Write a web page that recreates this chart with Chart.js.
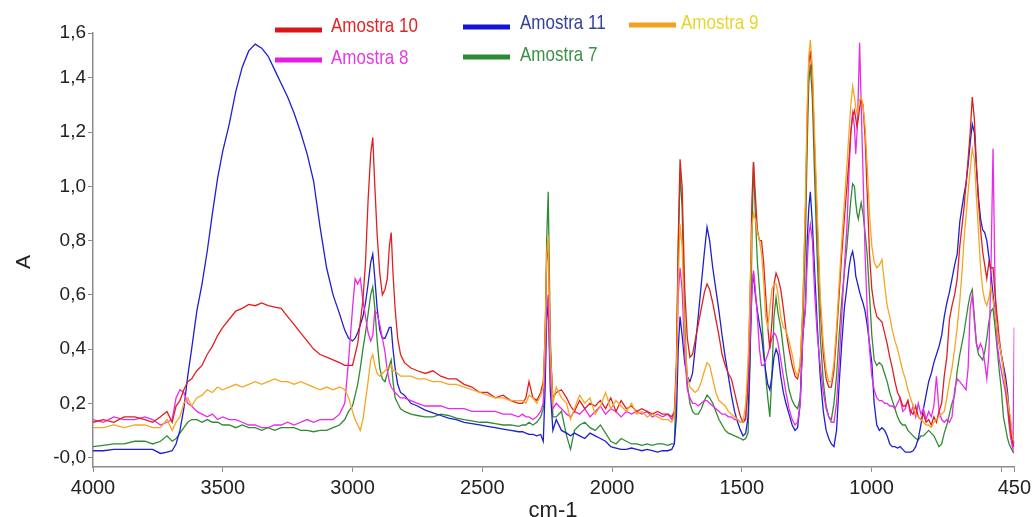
<!DOCTYPE html>
<html>
<head>
<meta charset="utf-8">
<script src="https://cdn.jsdelivr.net/npm/chart.js@4.4.0/dist/chart.umd.min.js"></script>
<style>
html,body{margin:0;padding:0;background:#fff;}
canvas{display:block;}
</style>
</head>
<body>
<canvas id="c" width="1035" height="517"></canvas>
<script>
// Wavenumbers (cm-1), shared x grid
const wavenumbers = [
4000,3960,3920,3880,3840,3800,3770,3740,3715,3695,
3680,3665,3650,3635,3620,3600,3580,3560,3540,3520,3500,3475,3450,3425,3400,3375,3350,3325,3300,3275,3250,3225,3200,3175,3150,3125,3100,3075,3050,3030,3015,
3000,2990,2980,2970,2960,2950,2940,2930,2922,2914,2905,2895,2885,2875,2866,2858,2851,2844,2836,2826,2815,
2800,2775,2750,2720,2690,2660,2630,2600,2570,2540,2510,2480,2450,2420,2390,2360,
2345,2332,2320,2305,2290,2275,2265,2258,2252,2246,2238,2228,
2215,2195,2175,2160,2145,2125,2105,2085,2065,2045,2025,2005,1985,1965,1945,1925,1905,1885,1865,1845,1825,1805,1785,1770,
1760,1752,1745,1738,1730,1720,1710,1700,1690,1680,1668,1656,1644,1634,1624,1612,1600,1588,1576,1564,1552,1540,1528,1516,1505,
1495,1485,1476,1468,1461,1455,1448,1440,1432,1424,1416,1408,1400,1392,1384,1376,1368,1360,1350,1340,1330,1318,1306,1295,1285,1275,1265,
1255,1248,1242,1236,1228,1220,1210,1198,1186,1175,1165,1155,1145,1135,1125,1115,1105,
1095,1087,1080,1073,1066,1061,1056,1051,1046,1040,1033,1025,1017,1008,999,990,980,970,960,950,940,930,920,910,900,890,880,
870,860,850,840,830,820,810,800,790,780,770,760,750,740,730,720,710,700,690,680,670,660,652,644,636,628,620,612,604,596,588,580,572,564,556,548,540,532,524,516,508,500,492,484,476,470,465,460,455,450
];

// Amostra 10 (red)
const amostra10 = [
0.13,0.14,0.13,0.15,0.15,0.14,0.13,0.15,0.17,0.13,
0.19,0.21,0.25,0.28,0.29,0.32,0.34,0.38,0.41,0.45,0.48,0.51,0.54,0.55,0.565,0.56,0.57,0.56,0.555,0.55,0.52,0.49,0.46,0.43,0.40,0.38,0.37,0.36,0.35,0.34,0.34,
0.34,0.38,0.42,0.50,0.58,0.72,0.95,1.12,1.18,1.00,0.82,0.68,0.60,0.62,0.66,0.78,0.83,0.68,0.55,0.44,0.38,
0.35,0.33,0.32,0.31,0.32,0.30,0.29,0.29,0.27,0.26,0.24,0.24,0.22,0.23,0.21,0.20,
0.20,0.22,0.28,0.22,0.21,0.24,0.28,0.45,0.72,0.80,0.40,0.22,
0.24,0.25,0.22,0.19,0.17,0.21,0.18,0.20,0.19,0.21,0.18,0.22,0.17,0.21,0.18,0.19,0.17,0.18,0.17,0.16,0.17,0.16,0.16,0.15,
0.17,0.35,0.80,1.10,1.00,0.62,0.44,0.37,0.38,0.43,0.49,0.55,0.61,0.64,0.62,0.57,0.51,0.45,0.38,0.34,0.31,0.29,0.24,0.19,0.15,
0.13,0.14,0.30,0.60,0.95,1.09,0.97,0.84,0.80,0.80,0.72,0.60,0.48,0.40,0.50,0.64,0.68,0.66,0.62,0.55,0.47,0.40,0.34,0.30,0.29,0.34,0.55,
0.90,1.25,1.45,1.50,1.40,1.15,0.88,0.56,0.38,0.29,0.26,0.26,0.32,0.45,0.60,0.75,0.88,
1.00,1.10,1.20,1.26,1.28,1.25,1.22,1.25,1.29,1.32,1.30,1.18,0.98,0.75,0.62,0.56,0.52,0.51,0.50,0.46,0.42,0.37,0.33,0.28,0.24,0.22,0.19,
0.19,0.21,0.17,0.16,0.19,0.15,0.14,0.16,0.13,0.14,0.12,0.15,0.13,0.17,0.20,0.30,0.37,0.51,0.56,0.60,0.66,0.78,0.85,0.92,1.01,1.10,1.20,1.33,1.25,1.08,0.94,0.84,0.76,0.71,0.66,0.72,0.70,0.70,0.60,0.52,0.44,0.38,0.33,0.27,0.20,0.14,0.10,0.07,0.05,0.04
];

// Amostra 11 (blue)
const amostra11 = [
0.025,0.025,0.03,0.03,0.03,0.03,0.03,0.015,0.02,0.025,
0.05,0.10,0.18,0.30,0.40,0.54,0.64,0.76,0.90,1.03,1.13,1.23,1.35,1.44,1.50,1.525,1.51,1.48,1.43,1.38,1.33,1.27,1.20,1.12,1.02,0.85,0.70,0.60,0.53,0.47,0.44,
0.43,0.44,0.46,0.49,0.52,0.57,0.64,0.72,0.75,0.66,0.55,0.47,0.44,0.44,0.46,0.48,0.48,0.40,0.33,0.27,0.24,
0.23,0.20,0.19,0.175,0.165,0.155,0.145,0.14,0.13,0.125,0.12,0.115,0.11,0.105,0.10,0.095,
0.095,0.09,0.085,0.085,0.08,0.085,0.06,0.25,0.50,0.58,0.25,0.10,
0.14,0.10,0.09,0.08,0.09,0.08,0.07,0.09,0.08,0.07,0.06,0.04,0.035,0.03,0.03,0.035,0.03,0.025,0.03,0.025,0.02,0.025,0.025,0.03,
0.05,0.15,0.40,0.52,0.45,0.35,0.30,0.28,0.31,0.40,0.52,0.64,0.76,0.85,0.80,0.70,0.62,0.54,0.45,0.37,0.30,0.23,0.17,0.13,0.10,
0.08,0.09,0.15,0.40,0.62,0.68,0.60,0.54,0.49,0.45,0.38,0.32,0.27,0.25,0.30,0.37,0.40,0.38,0.30,0.24,0.20,0.16,0.12,0.10,0.11,0.20,0.45,
0.55,0.80,0.92,0.98,0.86,0.70,0.50,0.30,0.17,0.10,0.07,0.05,0.04,0.10,0.27,0.42,0.55,
0.63,0.70,0.74,0.76,0.72,0.67,0.65,0.63,0.61,0.59,0.57,0.54,0.49,0.42,0.35,0.20,0.12,0.10,0.11,0.10,0.08,0.05,0.04,0.04,0.035,0.04,0.03,
0.02,0.02,0.02,0.025,0.04,0.07,0.12,0.18,0.23,0.28,0.31,0.35,0.38,0.41,0.45,0.52,0.57,0.61,0.66,0.71,0.75,0.87,0.92,0.97,1.01,1.08,1.16,1.23,1.20,1.07,0.96,0.88,0.84,0.83,0.80,0.74,0.68,0.60,0.53,0.47,0.42,0.38,0.34,0.30,0.24,0.17,0.13,0.09,0.07,0.05
];

// Amostra 9 (orange)
const amostra9 = [
0.11,0.11,0.12,0.11,0.12,0.12,0.11,0.11,0.14,0.10,
0.13,0.15,0.20,0.22,0.19,0.22,0.23,0.25,0.24,0.26,0.25,0.26,0.27,0.26,0.27,0.28,0.27,0.28,0.29,0.28,0.28,0.27,0.28,0.27,0.26,0.25,0.26,0.25,0.26,0.25,0.22,
0.17,0.14,0.12,0.10,0.14,0.21,0.28,0.36,0.38,0.34,0.31,0.30,0.31,0.32,0.33,0.33,0.34,0.32,0.32,0.31,0.30,
0.30,0.30,0.29,0.29,0.28,0.28,0.27,0.27,0.26,0.25,0.24,0.23,0.22,0.22,0.21,0.21,
0.21,0.20,0.23,0.22,0.20,0.23,0.26,0.45,0.75,0.82,0.40,0.20,
0.26,0.22,0.20,0.14,0.18,0.23,0.20,0.22,0.16,0.19,0.24,0.18,0.21,0.19,0.17,0.20,0.16,0.17,0.15,0.16,0.15,0.14,0.14,0.13,
0.15,0.30,0.65,0.86,0.78,0.45,0.30,0.26,0.25,0.24,0.25,0.28,0.32,0.35,0.34,0.29,0.24,0.21,0.20,0.19,0.17,0.16,0.15,0.14,0.13,
0.13,0.20,0.35,0.60,0.85,0.90,0.88,0.83,0.80,0.75,0.65,0.52,0.48,0.55,0.62,0.64,0.64,0.60,0.52,0.48,0.47,0.43,0.38,0.32,0.30,0.35,0.55,
0.95,1.30,1.48,1.54,1.44,1.20,0.92,0.60,0.42,0.32,0.28,0.28,0.35,0.48,0.64,0.80,0.94,
1.08,1.20,1.30,1.37,1.33,1.29,1.27,1.30,1.32,1.33,1.30,1.22,1.08,0.90,0.78,0.72,0.70,0.71,0.73,0.64,0.56,0.52,0.47,0.43,0.40,0.36,0.32,
0.29,0.25,0.22,0.19,0.16,0.15,0.14,0.13,0.12,0.12,0.11,0.13,0.14,0.15,0.16,0.17,0.22,0.28,0.33,0.40,0.48,0.58,0.68,0.80,0.89,0.98,1.06,1.14,1.10,0.96,0.83,0.70,0.62,0.58,0.56,0.59,0.63,0.58,0.53,0.47,0.42,0.38,0.32,0.27,0.22,0.17,0.15,0.10,0.07,0.06
];

// Amostra 8 (magenta)
const amostra8 = [
0.14,0.13,0.15,0.14,0.14,0.15,0.14,0.12,0.13,0.14,
0.22,0.25,0.24,0.20,0.19,0.17,0.16,0.15,0.16,0.14,0.15,0.14,0.14,0.13,0.12,0.12,0.11,0.11,0.12,0.12,0.13,0.12,0.13,0.14,0.13,0.14,0.14,0.14,0.16,0.20,0.36,
0.55,0.66,0.64,0.66,0.58,0.52,0.46,0.43,0.45,0.54,0.53,0.49,0.44,0.39,0.32,0.28,0.26,0.25,0.24,0.23,0.22,
0.22,0.21,0.20,0.19,0.19,0.19,0.18,0.18,0.18,0.17,0.17,0.17,0.17,0.16,0.16,0.15,
0.16,0.15,0.15,0.14,0.15,0.17,0.20,0.35,0.55,0.60,0.30,0.18,
0.20,0.18,0.16,0.15,0.17,0.16,0.18,0.15,0.17,0.19,0.16,0.18,0.17,0.15,0.17,0.16,0.17,0.16,0.17,0.15,0.16,0.15,0.16,0.14,
0.16,0.30,0.60,0.70,0.62,0.38,0.25,0.22,0.20,0.20,0.19,0.20,0.21,0.21,0.20,0.19,0.18,0.17,0.16,0.16,0.15,0.15,0.14,0.14,0.13,
0.13,0.15,0.25,0.45,0.62,0.69,0.62,0.52,0.40,0.34,0.34,0.36,0.38,0.41,0.44,0.46,0.45,0.42,0.36,0.30,0.24,0.18,0.14,0.12,0.13,0.20,0.45,
0.55,0.72,0.82,0.86,0.80,0.62,0.46,0.34,0.24,0.18,0.15,0.13,0.13,0.20,0.35,0.52,0.70,
0.85,1.05,1.20,1.27,1.22,1.12,1.20,1.35,1.53,1.30,1.05,0.75,0.55,0.40,0.30,0.25,0.22,0.21,0.21,0.20,0.20,0.19,0.19,0.18,0.20,0.22,0.17,
0.18,0.21,0.16,0.19,0.15,0.20,0.16,0.18,0.14,0.17,0.15,0.19,0.30,0.17,0.14,0.13,0.14,0.13,0.15,0.25,0.29,0.28,0.27,0.26,0.25,0.33,0.55,0.60,0.50,0.42,0.40,0.42,0.40,0.35,0.29,0.38,0.70,1.14,0.62,0.42,0.36,0.32,0.28,0.24,0.18,0.12,0.08,0.05,0.03,0.48
];

// Amostra 7 (green)
const amostra7 = [
0.04,0.045,0.05,0.05,0.06,0.06,0.05,0.06,0.08,0.06,
0.07,0.09,0.11,0.13,0.14,0.14,0.13,0.14,0.13,0.13,0.12,0.12,0.11,0.12,0.11,0.11,0.10,0.11,0.10,0.11,0.11,0.11,0.10,0.10,0.095,0.10,0.10,0.11,0.12,0.14,0.17,
0.19,0.23,0.27,0.33,0.40,0.46,0.53,0.60,0.63,0.55,0.43,0.33,0.29,0.28,0.31,0.34,0.36,0.28,0.22,0.20,0.18,
0.17,0.16,0.155,0.15,0.15,0.16,0.155,0.145,0.14,0.135,0.13,0.13,0.125,0.12,0.12,0.115,
0.12,0.12,0.13,0.12,0.13,0.15,0.18,0.40,0.80,0.98,0.45,0.15,
0.15,0.17,0.08,0.03,0.10,0.12,0.13,0.11,0.10,0.12,0.09,0.06,0.05,0.07,0.06,0.05,0.05,0.045,0.05,0.045,0.05,0.05,0.045,0.05,
0.05,0.30,0.75,1.05,0.92,0.50,0.27,0.20,0.17,0.16,0.16,0.18,0.21,0.23,0.22,0.20,0.17,0.14,0.12,0.10,0.09,0.085,0.08,0.075,0.07,
0.065,0.07,0.09,0.35,0.80,1.09,0.90,0.72,0.62,0.52,0.41,0.30,0.22,0.15,0.30,0.52,0.59,0.53,0.48,0.40,0.32,0.25,0.21,0.19,0.18,0.22,0.45,
0.80,1.15,1.38,1.45,1.32,1.05,0.75,0.45,0.28,0.19,0.15,0.14,0.20,0.30,0.45,0.58,0.68,
0.78,0.87,0.95,1.01,1.00,0.94,0.90,0.88,0.91,0.94,0.90,0.83,0.75,0.60,0.45,0.36,0.34,0.35,0.34,0.31,0.28,0.24,0.21,0.18,0.15,0.13,0.12,
0.12,0.10,0.09,0.08,0.07,0.065,0.08,0.08,0.09,0.10,0.09,0.08,0.06,0.04,0.05,0.09,0.12,0.16,0.20,0.23,0.32,0.38,0.42,0.46,0.51,0.56,0.60,0.62,0.52,0.42,0.38,0.37,0.36,0.39,0.44,0.50,0.54,0.55,0.48,0.40,0.32,0.25,0.15,0.11,0.07,0.05,0.04,0.03,0.02,0.02
];

const seriesNames = ['Amostra 9','Amostra 10','Amostra 8','Amostra 11','Amostra 7'];
const xTicks = [4000,3500,3000,2500,2000,1500,1000,500,450];
const xTickLabels = ['4000','3500','3000','2500','2000','1500','1000','','450'];
const yTicks = [0,0.2,0.4,0.6,0.8,1.0,1.2,1.4,1.566];
const yTickLabels = ['-0,0','0,2','0,4','0,6','0,8','1,0','1,2','1,4','1,6'];
const xTitle = 'cm-1';
const yTitle = 'A';

const FONT = "'Liberation Sans',Arial,Helvetica,sans-serif";

function pts(arr){ return wavenumbers.map((w,i)=>({x:w,y:arr[i]})); }

const lineColors = {
  'Amostra 10':'#e01f1f',
  'Amostra 11':'#1e1ed2',
  'Amostra 9':'#f5a623',
  'Amostra 8':'#ea2aea',
  'Amostra 7':'#2f8c32'
};
const seriesData = {
  'Amostra 10':amostra10,'Amostra 11':amostra11,'Amostra 9':amostra9,'Amostra 8':amostra8,'Amostra 7':amostra7
};

const legendItems = [
  {name:'Amostra 10', lx:275, ly:30, tx:331, ty:26, line:'#d81818', text:'#e02424'},
  {name:'Amostra 8',  lx:275, ly:60, tx:331, ty:58, line:'#e21ee2', text:'#e43ae4'},
  {name:'Amostra 11', lx:463, ly:27, tx:520, ty:23, line:'#1414d8', text:'#34409a'},
  {name:'Amostra 7',  lx:463, ly:57, tx:520, ty:55, line:'#2e8a34', text:'#3a9048'},
  {name:'Amostra 9',  lx:629, ly:25, tx:681, ty:23, line:'#f2a020', text:'#e8d42a'}
];

const overlay = {
  id:'overlay',
  afterDraw(chart){
    const ctx = chart.ctx;
    ctx.save();
    legendItems.forEach(it=>{
      ctx.strokeStyle = it.line; ctx.lineWidth = 5; ctx.lineCap='butt';
      ctx.beginPath(); ctx.moveTo(it.lx, it.ly); ctx.lineTo(it.lx+47, it.ly); ctx.stroke();
      ctx.save();
      ctx.fillStyle = it.text; ctx.font = '21px ' + FONT;
      ctx.textBaseline='middle'; ctx.textAlign='left';
      ctx.translate(it.tx, it.ty);
      ctx.scale(0.81, 1);
      ctx.fillText(it.name, 0, 0);
      ctx.restore();
    });
    ctx.fillStyle = '#222';
    ctx.font = '22px ' + FONT;
    ctx.textAlign='center'; ctx.textBaseline='alphabetic';
    ctx.fillText(xTitle, 553, 517);
    ctx.translate(24, 262);
    ctx.rotate(-Math.PI/2);
    ctx.textBaseline='middle';
    ctx.font = '21px ' + FONT;
    ctx.fillText(yTitle, 0, 0);
    ctx.restore();
  }
};

new Chart(document.getElementById('c'), {
  type:'line',
  data:{
    datasets: seriesNames.map(n=>({
      label:n,
      data:pts(seriesData[n]),
      borderColor:lineColors[n],
      borderWidth:1.3,
      pointRadius:0,
      tension:0,
      fill:false
    }))
  },
  options:{
    responsive:false,
    devicePixelRatio:1,
    animation:false,
    layout:{padding:{top:33,right:17,left:0,bottom:0}},
    plugins:{legend:{display:false},tooltip:{enabled:false},title:{display:false}},
    scales:{
      x:{
        type:'linear', reverse:true, min:450, max:4000,
        afterFit(s){ s.height = 50; },
        afterBuildTicks(s){ s.ticks = xTicks.map(v=>({value:v})); },
        ticks:{ callback:(v,i)=>xTickLabels[i], maxRotation:0, minRotation:0, autoSkip:false,
                font:{family:FONT,size:20}, color:'#222', padding:4 },
        grid:{ drawOnChartArea:false, drawTicks:true, tickLength:5, color:'#8c8c8c', lineWidth:1 },
        border:{ display:true, color:'#8c8c8c', width:1.5 }
      },
      y:{
        type:'linear', min:-0.035, max:1.566,
        afterFit(s){ s.width = 93; },
        afterBuildTicks(s){ s.ticks = yTicks.map(v=>({value:v})); },
        ticks:{ callback:(v,i)=>yTickLabels[i], autoSkip:false,
                font:{family:FONT,size:19}, color:'#222', padding:2 },
        grid:{ drawOnChartArea:false, drawTicks:true, tickLength:5, color:'#8c8c8c', lineWidth:1 },
        border:{ display:true, color:'#8c8c8c', width:1.5 }
      }
    }
  },
  plugins:[overlay]
});
</script>
</body>
</html>
